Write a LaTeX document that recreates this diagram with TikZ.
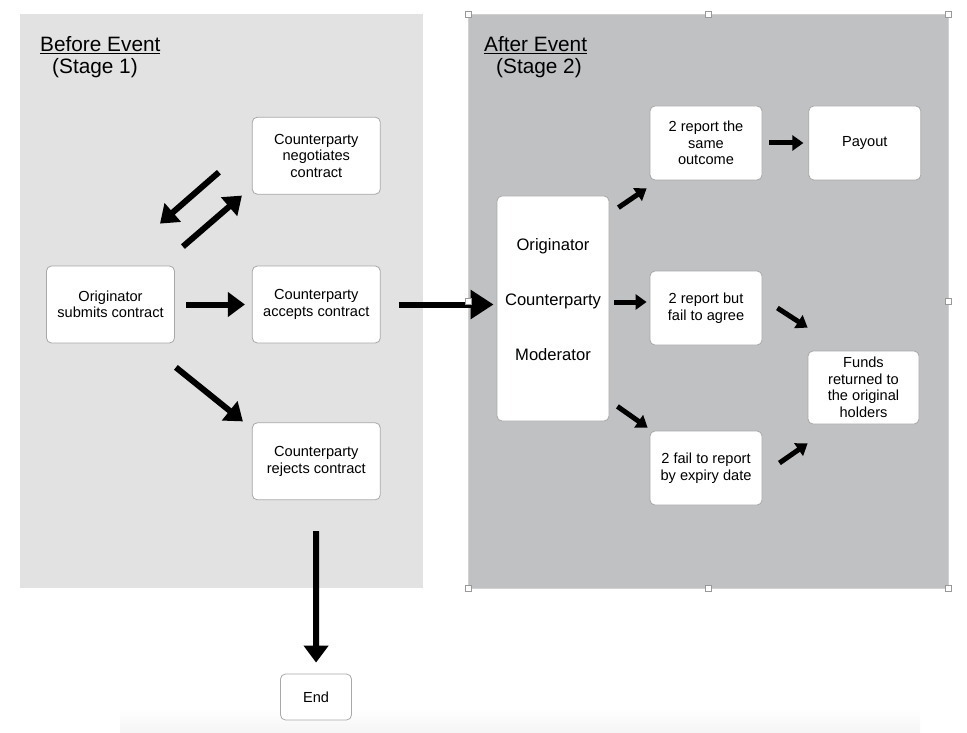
\documentclass[tikz,border=0pt]{standalone}
\usepackage{fontspec}
\setmainfont{Liberation Sans}
\usetikzlibrary{positioning, arrows.meta}
\definecolor{stageone}{HTML}{E2E2E2}
\definecolor{stagetwo}{HTML}{C0C1C3}
\definecolor{boxline}{HTML}{A8A8A8}

\begin{document}
\begin{tikzpicture}[
    x=1pt, y=-1pt,
    box/.style={rectangle, rounded corners=5pt, draw=boxline, line width=0.8pt, fill=white,
                minimum width=128pt, minimum height=77pt, align=center, inner sep=0pt,
                font=\fontsize{14.6}{16.5}\selectfont},
    small/.style={box, minimum width=112pt, minimum height=74pt},
    head/.style={anchor=base west, inner sep=0pt, font=\fontsize{20.8}{24}\selectfont},
    arr/.style={-{Triangle[length=17pt, width=24pt]}, line width=6pt},
    arrbig/.style={-{Triangle[length=23pt, width=28pt]}, line width=6pt},
    arrs/.style={-{Triangle[length=11pt, width=15pt]}, line width=5pt},
    handle/.style={draw=black!40, fill=white, line width=0.6pt},
  ]
  \useasboundingbox (0,0) rectangle (967,733);

  % the two stages
  \fill[stageone] (20,14) rectangle (423,588);
  \filldraw[fill=stagetwo, draw=black!18, line width=0.6pt] (468,14) rectangle (948,588);
  \shade[top color=white, bottom color=black!4] (120,708) rectangle (920,733);

  \node[head] (beforetitle) at (40,52) {\underline{Before Event}};
  \node[head] (beforestage) at (52,74) {(Stage 1)};
  \node[head] (aftertitle) at (484,52) {\underline{After Event}};
  \node[head] (afterstage) at (496,74) {(Stage 2)};

  % stage 1
  \node[box] (orig) at (110.5,304.5) {Originator\\submits contract};
  \node[box, right=77pt of orig] (accept) {Counterparty\\accepts contract};
  \node[box, above=71pt of accept] (nego) {Counterparty\\negotiates\\contract};
  \node[box, below=79pt of accept] (reject) {Counterparty\\rejects contract};
  \node[box, minimum width=71pt, minimum height=46pt] (end) at (316,697) {End};

  % stage 2
  \node[box, minimum width=112pt, minimum height=225pt, text depth=19pt,
        font=\fontsize{16.6}{55}\selectfont] (party) at (553,308.5) {Originator\\Counterparty\\Moderator};
  \node[small] (same) at (706,143) {2 report the\\same\\outcome};
  \node[small, right=46pt of same] (payout) {Payout};
  \node[small] (fail) at (706,308) {2 report but\\fail to agree};
  \node[small] (expiry) at (706,468) {2 fail to report\\by expiry date};
  \node[small, minimum width=111pt, minimum height=73pt] (funds) at (863.5,387.5) {Funds\\returned to\\the original\\holders};

  \draw[arr] ([shift={(-33,16.5)}]nego.west) -- ([shift={(49.5,-42)}]orig.north);
  \draw[arr] ([shift={(8,-19)}]orig.north east) -- ([shift={(-10,1)}]nego.south west);
  \draw[arr, shorten <=11pt, shorten >=7pt] (orig) -- (accept);
  \draw[arr] ([shift={(1,24)}]orig.south east) -- ([shift={(-9,-1)}]reject.north west);
  \draw[arrbig, shorten <=18pt, shorten >=3pt] (accept.east) -- (accept.east -| party.west);
  \draw[arr, shorten <=31pt, shorten >=11pt] (reject) -- (end);

  \draw[arrs] ([shift={(9,12)}]party.north east) -- ([shift={(-3,8)}]same.south west);
  \draw[arrs, shorten <=7pt, shorten >=5pt] (same) -- (payout);
  \draw[arrs] ([shift={(5,-6.5)}]party.east) -- ([shift={(-3,-6)}]fail.west);
  \draw[arrs] ([shift={(8,-15)}]party.south east) -- ([shift={(-2,-3)}]expiry.north west);
  \draw[arrs] ([shift={(15,0)}]fail.east) -- ([shift={(0,-23)}]funds.north west);
  \draw[arrs] ([shift={(17,-5)}]expiry.east) -- ([shift={(0,19)}]funds.south west);

  % selection handles
  \foreach \hx/\hy in {468/14, 708/14, 948/14, 468/301, 948/301, 468/588, 708/588, 948/588}
    \draw[handle] (\hx-3,\hy-3) rectangle ++(6,6);
\end{tikzpicture}
\end{document}
